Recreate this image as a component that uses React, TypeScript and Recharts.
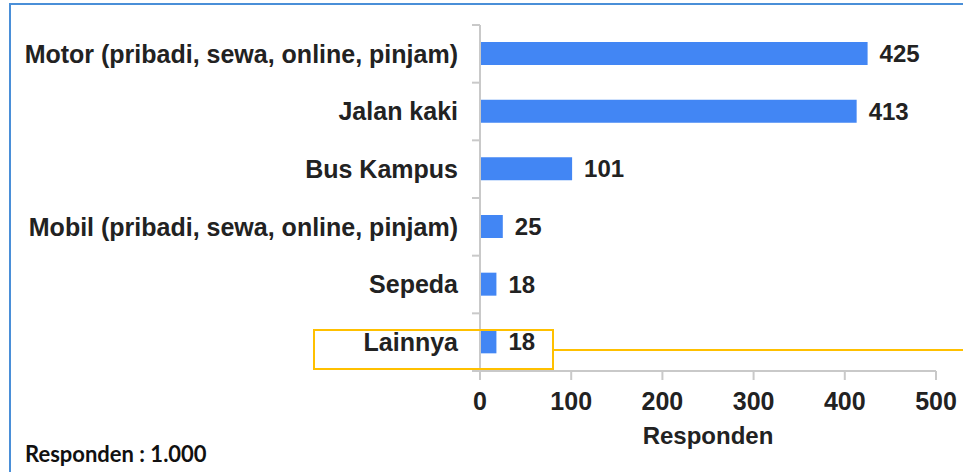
import { Bar, BarChart, LabelList, XAxis, YAxis } from 'recharts';

const categories = [
  'Motor (pribadi, sewa, online, pinjam)',
  'Jalan kaki',
  'Bus Kampus',
  'Mobil (pribadi, sewa, online, pinjam)',
  'Sepeda',
  'Lainnya',
];
const counts = [425, 413, 101, 25, 18, 18];
const xTicks = [0, 100, 200, 300, 400, 500];

const rows = categories.map((name, i) => ({ name, value: counts[i] }));

const font = '"Liberation Sans", Arial, sans-serif';
const axisGray = '#c9c9c9';
const barBlue = '#4286f4';
const ink = '#222';
const yellow = '#ffc000';

const TICK_SIZE = 6;
const TICK_MARGIN = 16;
const EDGE_TICK = 8;

// category label plus the short tick marks on the band boundaries
function CatTick(props: any) {
  const { x, y, payload, index, visibleTicksCount } = props;
  const half = payload?.offset ?? 0;
  const axisX = x + TICK_SIZE + TICK_MARGIN;
  const isLast = index === visibleTicksCount - 1;
  return (
    <g>
      <line x1={axisX - EDGE_TICK} x2={axisX} y1={y - half} y2={y - half} stroke={axisGray} strokeWidth={2} />
      {isLast && (
        <line x1={axisX - EDGE_TICK} x2={axisX} y1={y + half} y2={y + half} stroke={axisGray} strokeWidth={2} />
      )}
      <text
        x={x}
        y={y}
        dy="0.355em"
        textAnchor="end"
        fill={ink}
        style={{ fontSize: 25, fontWeight: 700, fontFamily: font }}
      >
        {payload.value}
      </text>
    </g>
  );
}

export default function App() {
  return (
    <div style={{ position: 'absolute', left: 0, top: 0, width: 963, height: 472, overflow: 'hidden', background: '#fff' }}>
      {/* blue frame, only top and left edges show */}
      <div
        style={{
          position: 'absolute',
          left: 9,
          top: 3,
          width: 1000,
          height: 520,
          borderTop: '2px solid #4a8fd8',
          borderLeft: '2px solid #4a8fd8',
        }}
      />
      <div style={{ position: 'absolute', left: 0, top: 0 }}>
        <BarChart
          width={963}
          height={472}
          data={rows}
          layout="vertical"
          margin={{ top: 25, right: 27, bottom: 21, left: 0 }}
        >
          <XAxis
            type="number"
            domain={[0, 500]}
            ticks={xTicks}
            interval={0}
            height={80}
            axisLine={{ stroke: axisGray, strokeWidth: 2 }}
            tickLine={{ stroke: axisGray, strokeWidth: 2 }}
            tickSize={9}
            tickMargin={12}
            tick={{ fill: ink, fontSize: 25, fontWeight: 700, fontFamily: font }}
            label={{
              value: 'Responden',
              position: 'insideBottom',
              offset: 7,
              style: { fill: ink, fontSize: 24, fontWeight: 700, fontFamily: font },
            }}
          />
          <YAxis
            type="category"
            dataKey="name"
            width={480}
            interval={0}
            tickLine={false}
            axisLine={{ stroke: axisGray, strokeWidth: 2 }}
            tickSize={TICK_SIZE}
            tickMargin={TICK_MARGIN}
            tick={<CatTick />}
          />
          <Bar dataKey="value" fill={barBlue} barSize={23} isAnimationActive={false}>
            <LabelList
              dataKey="value"
              position="right"
              offset={12}
              fill={ink}
              style={{ fontSize: 24, fontWeight: 700, fontFamily: font }}
            />
          </Bar>
        </BarChart>
      </div>
      {/* highlight box around Lainnya and its leader line */}
      <div
        style={{
          position: 'absolute',
          left: 313,
          top: 329,
          width: 237,
          height: 37,
          border: `2px solid ${yellow}`,
        }}
      />
      <div style={{ position: 'absolute', left: 554, top: 349, width: 420, height: 2, background: yellow }} />
      <div
        style={{
          position: 'absolute',
          left: 25,
          top: 440,
          fontFamily: 'Lato, "Open Sans", sans-serif',
          fontWeight: 700,
          fontSize: 22,
          color: '#111',
          whiteSpace: 'nowrap',
        }}
      >
        Responden : 1.000
      </div>
    </div>
  );
}
